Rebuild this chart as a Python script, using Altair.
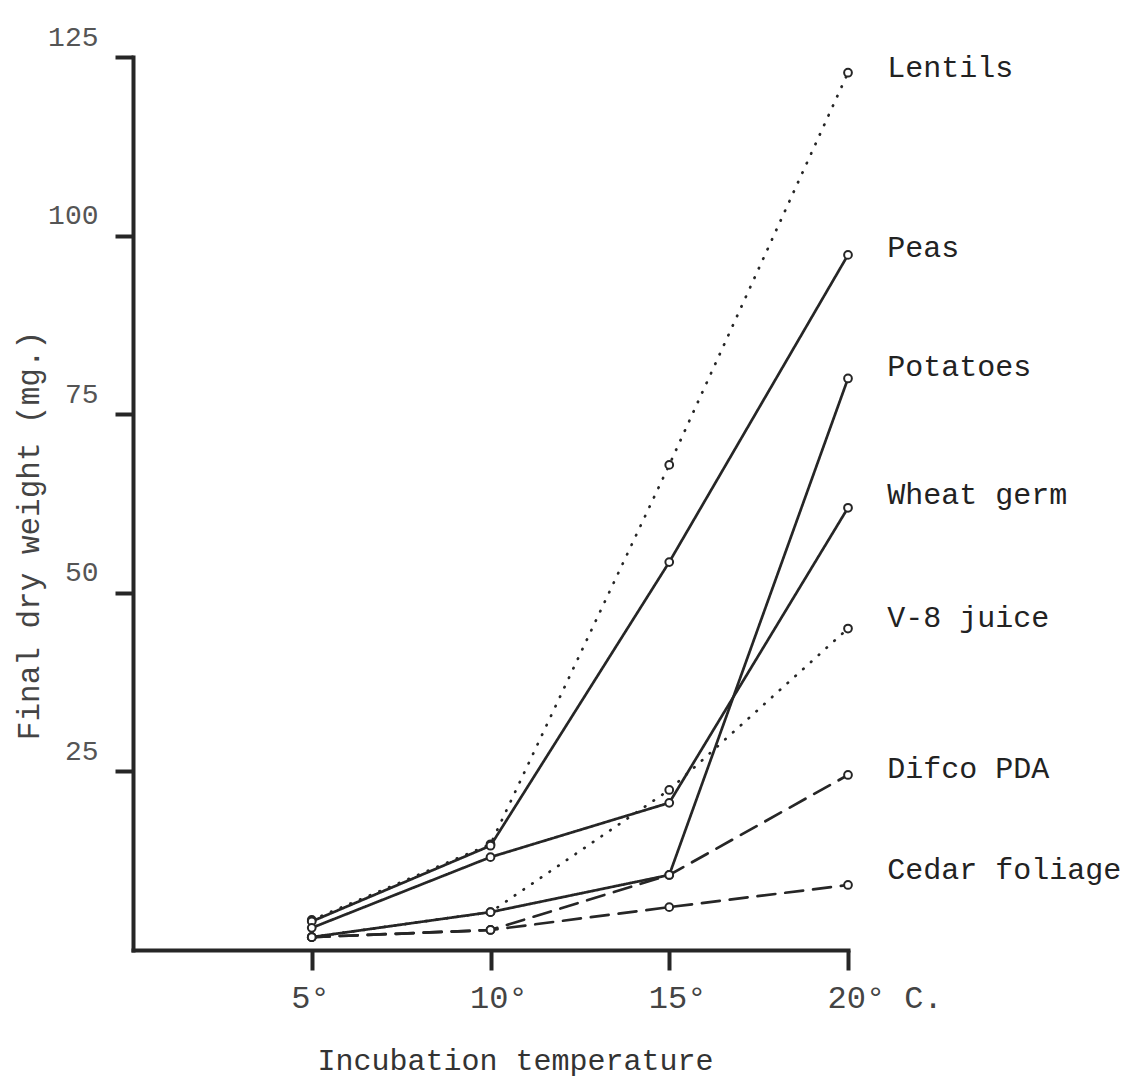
import altair as alt
import pandas as pd

# ---- data ----
temps = [5, 10, 15, 20]
series_names = ["Lentils", "Peas", "Potatoes", "Wheat germ", "V-8 juice", "Difco PDA", "Cedar foliage"]
lentils = [4.2, 14.8, 67.9, 122.8]
peas = [4.0, 14.6, 54.3, 97.3]
potatoes = [1.8, 5.3, 10.5, 80.0]
wheat_germ = [3.1, 13.0, 20.6, 61.9]
v8_juice = [1.8, 5.3, 22.4, 45.0]
difco_pda = [1.8, 2.8, 10.5, 24.5]
cedar_foliage = [1.8, 2.8, 6.0, 9.1]
line_styles = ["dotted", "solid", "solid", "solid", "dotted", "dashed", "dashed"]
label_y = [123.5, 98.2, 81.6, 63.7, 46.5, 25.3, 11.2]
label_x = 21.1
y_ticks = [25, 50, 75, 100, 125]
x_ticks = [5, 10, 15, 20]

values = [lentils, peas, potatoes, wheat_germ, v8_juice, difco_pda, cedar_foliage]

rows = []
for name, vals, style in zip(series_names, values, line_styles):
    for t, v in zip(temps, vals):
        rows.append({"series": name, "temp": t, "weight": v, "style": style})
df = pd.DataFrame(rows)

labels_df = pd.DataFrame({"series": series_names, "ly": label_y, "lx": [label_x] * len(series_names)})

dash_map = {"dotted": [0.5, 10], "solid": [1, 0], "dashed": [18, 10]}
styles_order = ["dotted", "solid", "dashed"]

INK = "#262626"
FONT = "Liberation Mono"

x_enc = alt.X(
    "temp:Q",
    scale=alt.Scale(domain=[0, 20], nice=False, zero=True),
    axis=alt.Axis(
        values=x_ticks,
        title="Incubation temperature",
        labelExpr="datum.value == 20 ? '20° C.' : datum.value + '°'",
        labelAlign="left",
        labelOffset=-21,
        labelPadding=12,
        labelFont=FONT,
        labelFontSize=32,
        labelColor="#444",
        tickSize=20,
        tickWidth=4,
        tickColor=INK,
        domainWidth=4,
        domainColor=INK,
        domainCap="square",
        grid=False,
        titleFont=FONT,
        titleFontSize=30,
        titleFontWeight="normal",
        titleColor="#333",
        titleX=382,
        titleY=110,
        titleAlign="center",
        titleBaseline="middle",
    ),
)

y_enc = alt.Y(
    "weight:Q",
    scale=alt.Scale(domain=[0, 125], nice=False),
    axis=alt.Axis(
        values=y_ticks,
        title="Final dry weight (mg.)",
        labelFont=FONT,
        labelFontSize=28,
        labelColor="#555",
        labelPadding=17,
        labelBaseline="middle",
        labelOffset=-20,
        tickSize=18,
        tickWidth=4,
        tickColor=INK,
        domainWidth=4,
        domainColor=INK,
        domainCap="square",
        grid=False,
        titleFont=FONT,
        titleFontSize=31,
        titleFontWeight="normal",
        titleColor="#444",
        titleAngle=270,
        titleX=-104,
        titleY=478,
        titleAlign="center",
        titleBaseline="middle",
    ),
)

base = alt.Chart(df)

lines = base.mark_line(color=INK, strokeWidth=2.7, strokeCap="round").encode(
    x=x_enc,
    y=y_enc,
    detail="series:N",
    order="temp:Q",
    strokeDash=alt.StrokeDash(
        "style:N",
        scale=alt.Scale(domain=styles_order, range=[dash_map[s] for s in styles_order]),
        legend=None,
    ),
)

points = base.mark_point(
    shape="circle", filled=True, fill="white", stroke=INK, strokeWidth=2, size=60, opacity=1
).encode(x="temp:Q", y="weight:Q")

labels = alt.Chart(labels_df).mark_text(
    align="left", baseline="middle", font=FONT, fontSize=30, color="#222"
).encode(x="lx:Q", y="ly:Q", text="series:N")

chart = (
    alt.layer(lines, points, labels)
    .properties(
        width=715,
        height=893,
        autosize=alt.AutoSizeParams(type="none"),
        padding={"left": 133, "top": 57, "right": 292, "bottom": 129},
        background="white",
    )
    .configure_view(stroke=None)
)

chart.save("out.html", embed_options={"renderer": "svg", "actions": False})
